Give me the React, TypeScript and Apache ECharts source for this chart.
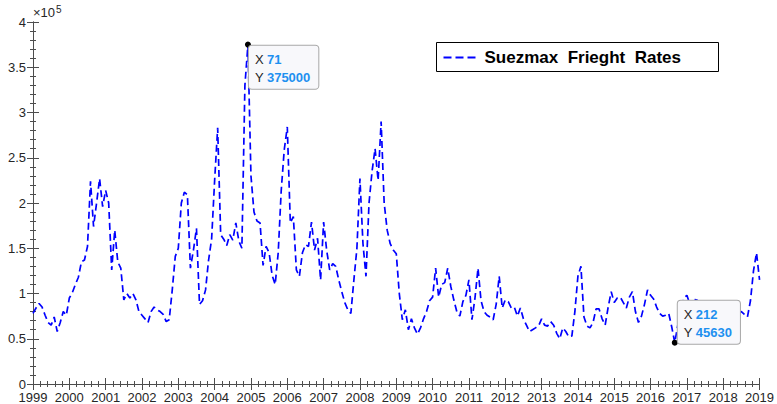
import React, { useEffect, useRef } from "react";
import * as echarts from "echarts";

// Monthly Suezmax freight rates, month index 0 = Jan 1999 … 240 = Jan 2019
const rates: number[] = [
  78000, 84000, 89000, 85000, 76000, 68000, 65000, 74000, 58000, 68000, 80000, 76000,
  95000, 101000, 110000, 118000, 135000, 137000, 152000, 224000, 174000, 200000, 227000, 196000,
  214000, 200000, 126000, 170000, 135000, 128000, 93000, 100000, 95000, 100000, 93000, 80000,
  76000, 72000, 68000, 80000, 85000, 82000, 80000, 77000, 69000, 71000, 104000, 141000,
  150000, 200000, 212000, 209000, 128000, 148000, 172000, 88000, 92000, 104000, 137000, 160000,
  225000, 283000, 165000, 160000, 153000, 165000, 159000, 178000, 158000, 150000, 330000, 375000,
  230000, 190000, 180000, 178000, 131000, 152000, 145000, 120000, 110000, 145000, 214000, 259000,
  284000, 178000, 185000, 126000, 119000, 145000, 154000, 152000, 179000, 148000, 161000, 115000,
  179000, 148000, 126000, 133000, 130000, 115000, 102000, 90000, 82000, 78000, 115000, 150000,
  227000, 155000, 119000, 200000, 235000, 260000, 225000, 290000, 200000, 170000, 155000, 148000,
  144000, 100000, 71000, 82000, 60000, 72000, 62000, 55000, 62000, 72000, 80000, 92000,
  96000, 128000, 96000, 110000, 112000, 128000, 108000, 93000, 80000, 75000, 91000, 98000,
  115000, 71000, 95000, 128000, 92000, 80000, 76000, 74000, 71000, 88000, 119000, 84000,
  93000, 91000, 84000, 85000, 75000, 84000, 72000, 65000, 58000, 60000, 62000, 64000,
  72000, 65000, 64000, 69000, 65000, 56000, 50000, 62000, 58000, 52000, 53000, 80000,
  119000, 130000, 74000, 64000, 62000, 68000, 83000, 83000, 72000, 65000, 85000, 102000,
  90000, 95000, 96000, 90000, 84000, 96000, 102000, 80000, 68000, 75000, 88000, 104000,
  98000, 94000, 85000, 78000, 75000, 76000, 78000, 63000, 45630, 65000, 80000, 95000,
  98000, 88000, 82000, 96000, 85000, 78000, 72000, 70000, 68000, 70000, 66000, 70000,
  72000, 70000, 74000, 72000, 75000, 79000, 80000, 77000, 74000, 92000, 125000, 145000,
  115000,
];

const firstYear = 1999;
const lastYear = 2019;
const monthsPerTick = 12;
const yTickStep = 50000;
const yMax = 400000;

const seriesName = "Suezmax  Frieght  Rates";

// data tips shown on the chart
const tipX = [71, 212];
const tipY = [375000, 45630];

export default function App() {
  const ref = useRef<HTMLDivElement>(null);
  useEffect(() => {
    if (!ref.current) return;
    const chart = echarts.init(ref.current, null, { renderer: "svg" });
    const axisColor = "#4d4d4d";
    const textColor = "#262626";
    const lineColor = "#0000ff";
    const dash = [7, 4];
    const xMax = (lastYear - firstYear) * monthsPerTick;
    const commonX = {
      type: "value",
      min: 0,
      max: xMax,
      interval: monthsPerTick,
      axisLine: { show: true, lineStyle: { color: axisColor, width: 1 } },
      axisTick: { show: true, inside: true, length: 6, lineStyle: { color: axisColor } },
      minorTick: { show: true, splitNumber: 5, length: 3, lineStyle: { color: axisColor } },
      splitLine: { show: false },
    };
    const commonY = {
      type: "value",
      min: 0,
      max: yMax,
      interval: yTickStep,
      axisLine: { show: true, lineStyle: { color: axisColor, width: 1 } },
      axisTick: { show: true, inside: true, length: 6, lineStyle: { color: axisColor } },
      minorTick: { show: true, splitNumber: 5, length: 3, lineStyle: { color: axisColor } },
      splitLine: { show: false },
    };
    const tipLabelStyle = {
      show: true,
      backgroundColor: "#f8f8fb",
      borderColor: "#a8a8a8",
      borderWidth: 1,
      borderRadius: 3,
      padding: [5, 8, 2, 6],
      rich: {
        k: { color: textColor, fontSize: 13, fontFamily: "Arial", lineHeight: 18 },
        v: { color: "#1e90f0", fontSize: 13, fontWeight: "bold", fontFamily: "Arial", lineHeight: 18 },
      },
    };
    chart.setOption({
      animation: false,
      backgroundColor: "#ffffff",
      grid: { left: 33, top: 22, right: 12, bottom: 20, containLabel: false },
      xAxis: [
        {
          ...commonX,
          position: "bottom",
          axisLabel: {
            show: true,
            margin: 7,
            color: textColor,
            fontSize: 13,
            fontFamily: "Arial",
            formatter: (v: number) => String(firstYear + v / monthsPerTick),
          },
        },
        { ...commonX, position: "top", axisLabel: { show: false } },
      ],
      yAxis: [
        {
          ...commonY,
          position: "left",
          axisLabel: {
            show: true,
            margin: 7,
            color: textColor,
            fontSize: 13,
            fontFamily: "Arial",
            formatter: (v: number) => String(v / 100000),
          },
        },
        { ...commonY, position: "right", axisLabel: { show: false } },
      ],
      graphic: [
        {
          type: "text",
          left: 33,
          top: 4,
          style: {
            text: "×10{s|5}",
            fill: textColor,
            font: "13px Arial",
            rich: { s: { fontSize: 10, fontFamily: "Arial", fill: textColor, verticalAlign: "top", padding: [0, 0, 7, 1] } },
          },
        },
        {
          type: "group",
          left: 436,
          top: 42,
          children: [
            {
              type: "rect",
              shape: { x: 0, y: 0, width: 282, height: 29 },
              style: { fill: "#fff", stroke: "#000", lineWidth: 1 },
            },
            {
              type: "line",
              shape: { x1: 7, y1: 15, x2: 43, y2: 15 },
              style: { stroke: lineColor, lineWidth: 1.8, lineDash: [8, 4] },
            },
            {
              type: "text",
              x: 48,
              y: 15,
              style: {
                text: seriesName,
                fill: "#000",
                font: "bold 17px Arial",
                verticalAlign: "middle",
                align: "left",
              },
            },
          ],
        },
      ],
      series: [
        {
          name: seriesName,
          type: "line",
          data: rates.map((v, i) => [i, v]),
          showSymbol: false,
          symbol: "none",
          itemStyle: { color: lineColor },
          lineStyle: { color: lineColor, width: 1.7, type: dash },
          markPoint: {
            symbol: "circle",
            symbolSize: 6,
            itemStyle: { color: "#000" },
            data: tipX.map((x, i) => ({
              coord: [x, tipY[i]],
              label: {
                ...tipLabelStyle,
                position: i === 0 ? [4, 4] : [6, -39],
                formatter: `{k|X} {v|${x}}\n{k|Y} {v|${tipY[i]}}`,
              },
            })),
          },
        },
      ],
    });
    return () => chart.dispose();
  }, []);
  return (
    <div
      ref={ref}
      style={{ position: "fixed", left: 0, top: 0, width: 777, height: 404, background: "#fff" }}
    />
  );
}
